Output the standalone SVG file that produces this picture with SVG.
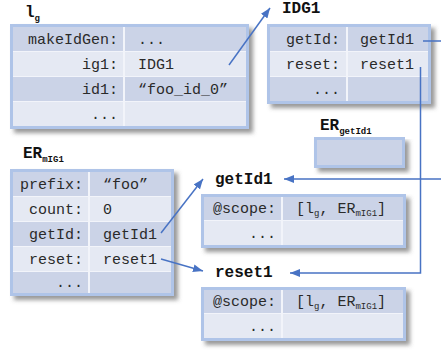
<svg xmlns="http://www.w3.org/2000/svg" width="441" height="351" viewBox="0 0 441 351">
  <defs>
    <filter id="shadow" x="-10%" y="-10%" width="130%" height="140%">
      <feGaussianBlur in="SourceAlpha" stdDeviation="2"/>
      <feOffset dx="4" dy="4" result="b"/>
      <feFlood flood-color="#555" flood-opacity="0.6"/>
      <feComposite in2="b" operator="in"/>
      <feMerge><feMergeNode/><feMergeNode in="SourceGraphic"/></feMerge>
    </filter>
    <marker id="arrow" viewBox="0 0 10 8" refX="10" refY="4" markerWidth="10" markerHeight="8" markerUnits="userSpaceOnUse" orient="auto">
      <path d="M0,0 L10,4 L0,8 Z" fill="#4873c4"/>
    </marker>
  </defs>
  <style>
    .frame { fill: #f2f4fa; stroke: #afc4e8; stroke-width: 3; }
    .dark { fill: #cbd3e7; }
    .light { fill: #e5e9f3; }
    .cell { font-family: "Liberation Mono", "DejaVu Sans Mono", monospace; font-size: 15px; fill: #2a2a2a; }
    .key { text-anchor: end; }
    .title { font-family: "Liberation Mono", "DejaVu Sans Mono", monospace; font-size: 16px; font-weight: bold; fill: #111; }
    .sub { font-size: 9px; }
    .link { fill: none; stroke: #4873c4; stroke-width: 1.5; }
  </style>

  <rect width="441" height="351" fill="#ffffff"/>

  <!-- environment record l_g -->
  <g id="lg">
    <text class="title" x="25" y="17">l<tspan class="sub" font-size="10" dy="4">g</tspan></text>
    <rect class="frame" x="11.5" y="25.5" width="236" height="102" filter="url(#shadow)"/>
    <rect class="dark" x="13" y="27" width="110" height="24"/>
    <rect class="dark" x="125" y="27" width="121" height="24"/>
    <rect class="light" x="13" y="52" width="110" height="24"/>
    <rect class="light" x="125" y="52" width="121" height="24"/>
    <rect class="dark" x="13" y="77" width="110" height="24"/>
    <rect class="dark" x="125" y="77" width="121" height="24"/>
    <rect class="light" x="13" y="102" width="110" height="24"/>
    <rect class="light" x="125" y="102" width="121" height="24"/>
    <text class="cell key" x="118" y="44">makeIdGen:</text>
    <text class="cell" x="138" y="44">...</text>
    <text class="cell key" x="118" y="69">ig1:</text>
    <text class="cell" x="138" y="69">IDG1</text>
    <text class="cell key" x="118" y="94">id1:</text>
    <text class="cell" x="138" y="94">“foo_id_0”</text>
    <text class="cell key" x="118" y="119">...</text>
  </g>

  <!-- object IDG1 -->
  <g id="idg1">
    <text class="title" x="282" y="13">IDG1</text>
    <rect class="frame" x="268.5" y="25.5" width="161" height="77" filter="url(#shadow)"/>
    <rect class="dark" x="270" y="27" width="76" height="24"/>
    <rect class="dark" x="348" y="27" width="80" height="24"/>
    <rect class="light" x="270" y="52" width="76" height="24"/>
    <rect class="light" x="348" y="52" width="80" height="24"/>
    <rect class="dark" x="270" y="77" width="76" height="24"/>
    <rect class="dark" x="348" y="77" width="80" height="24"/>
    <text class="cell key" x="340" y="44">getId:</text>
    <text class="cell" x="360" y="44">getId1</text>
    <text class="cell key" x="340" y="69">reset:</text>
    <text class="cell" x="360" y="69">reset1</text>
    <text class="cell key" x="340" y="94">...</text>
  </g>

  <!-- empty environment record ER_getId1 -->
  <g id="er-getid1">
    <text class="title" x="320" y="130">ER<tspan class="sub" font-size="10" dy="4">getId1</tspan></text>
    <rect class="dark" x="315.5" y="138.5" width="88" height="28" stroke="#afc4e8" stroke-width="3" filter="url(#shadow)"/>
  </g>

  <!-- environment record ER_mIG1 -->
  <g id="er-mig1">
    <text class="title" x="23" y="158">ER<tspan class="sub" dy="4">mIG1</tspan></text>
    <rect class="frame" x="11.5" y="170.5" width="161" height="124" filter="url(#shadow)"/>
    <rect class="dark" x="13" y="172" width="75" height="24"/>
    <rect class="dark" x="90" y="172" width="81" height="24"/>
    <rect class="light" x="13" y="197" width="75" height="24"/>
    <rect class="light" x="90" y="197" width="81" height="24"/>
    <rect class="dark" x="13" y="222" width="75" height="24"/>
    <rect class="dark" x="90" y="222" width="81" height="24"/>
    <rect class="light" x="13" y="247" width="75" height="24"/>
    <rect class="light" x="90" y="247" width="81" height="24"/>
    <rect class="dark" x="13" y="272" width="75" height="21"/>
    <rect class="dark" x="90" y="272" width="81" height="21"/>
    <text class="cell key" x="83" y="189">prefix:</text>
    <text class="cell" x="103" y="189">“foo”</text>
    <text class="cell key" x="83" y="214">count:</text>
    <text class="cell" x="103" y="214">0</text>
    <text class="cell key" x="83" y="239">getId:</text>
    <text class="cell" x="103" y="239">getId1</text>
    <text class="cell key" x="83" y="264">reset:</text>
    <text class="cell" x="103" y="264">reset1</text>
    <text class="cell key" x="83" y="287">...</text>
  </g>

  <!-- function object getId1 -->
  <g id="getid1">
    <text class="title" x="215" y="184">getId1</text>
    <rect class="frame" x="202.5" y="195.5" width="202" height="51" filter="url(#shadow)"/>
    <rect class="dark" x="204" y="197" width="77" height="23"/>
    <rect class="dark" x="283" y="197" width="120" height="23"/>
    <rect class="light" x="204" y="221" width="77" height="24"/>
    <rect class="light" x="283" y="221" width="120" height="24"/>
    <text class="cell key" x="276" y="213">@scope:</text>
    <text class="cell" x="296" y="213">[l<tspan font-size="9" dy="3">g</tspan><tspan dy="-3">, ER</tspan><tspan font-size="9" dy="3">mIG1</tspan><tspan dy="-3">]</tspan></text>
    <text class="cell key" x="276" y="238">...</text>
  </g>

  <!-- function object reset1 -->
  <g id="reset1">
    <text class="title" x="215" y="277">reset1</text>
    <rect class="frame" x="202.5" y="288.5" width="202" height="51" filter="url(#shadow)"/>
    <rect class="dark" x="204" y="290" width="77" height="23"/>
    <rect class="dark" x="283" y="290" width="120" height="23"/>
    <rect class="light" x="204" y="314" width="77" height="24"/>
    <rect class="light" x="283" y="314" width="120" height="24"/>
    <text class="cell key" x="276" y="306">@scope:</text>
    <text class="cell" x="296" y="306">[l<tspan font-size="9" dy="3">g</tspan><tspan dy="-3">, ER</tspan><tspan font-size="9" dy="3">mIG1</tspan><tspan dy="-3">]</tspan></text>
    <text class="cell key" x="276" y="331">...</text>
  </g>

  <!-- references -->
  <g id="connectors">
    <path class="link" d="M229,65 L270,8" marker-end="url(#arrow)"/>
    <path class="link" d="M161,233 L203,179" marker-end="url(#arrow)"/>
    <path class="link" d="M161,259 L203,271" marker-end="url(#arrow)"/>
    <path class="link" d="M423,41 H446 V179 H284" marker-end="url(#arrow)"/>
    <path class="link" d="M420.5,67 V273 H290" marker-end="url(#arrow)"/>
  </g>
</svg>
